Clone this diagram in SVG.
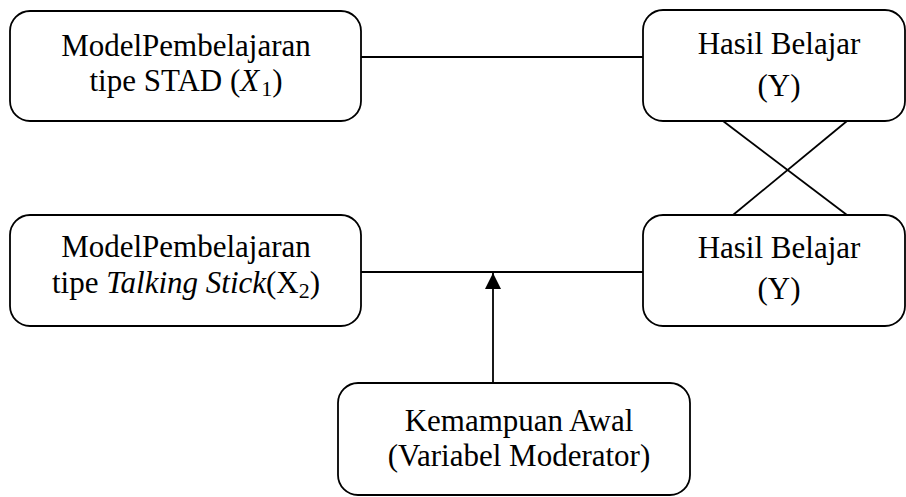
<svg xmlns="http://www.w3.org/2000/svg" width="906" height="497" viewBox="0 0 906 497">
<defs>
<style>
.box{fill:#fff;stroke:#000;stroke-width:1.8}
.ln{fill:none;stroke:#000;stroke-width:1.8}
.t{font-size:31px;fill:#000;text-anchor:middle}
</style>
<marker id="arr" viewBox="0 0 16 16" refX="16" refY="8" markerWidth="16" markerHeight="16" markerUnits="userSpaceOnUse" orient="auto">
<path d="M0,0 L16,8 L0,16 Z" fill="#000"/>
</marker>
</defs>
<g id="connectors">
<line class="ln" x1="361" y1="57" x2="643" y2="57"/>
<line class="ln" x1="361" y1="272" x2="643" y2="272"/>
<line class="ln" x1="723" y1="121" x2="847" y2="215"/>
<line class="ln" x1="847" y1="121" x2="733" y2="215"/>
<line class="ln" x1="493" y1="383" x2="493" y2="273" marker-end="url(#arr)"/>
</g>
<g id="node-x1">
<rect class="box" x="10" y="11" width="351" height="110" rx="20"/>
<text class="t" font-family="Liberation Serif" x="186" y="56">ModelPembelajaran</text>
<text class="t" font-family="Liberation Serif" x="186" y="91">tipe STAD (<tspan font-style="italic">X</tspan><tspan font-size="22" dy="5" dx="2">1</tspan><tspan dy="-5">)</tspan></text>
</g>
<g id="node-y1">
<rect class="box" x="643" y="10" width="262" height="111" rx="20"/>
<text class="t" font-family="Liberation Serif" x="779" y="54">Hasil Belajar</text>
<text class="t" font-family="Liberation Serif" x="779" y="96">(Y)</text>
</g>
<g id="node-x2">
<rect class="box" x="10" y="215" width="351" height="111" rx="20"/>
<text class="t" font-family="Liberation Serif" x="186" y="257">ModelPembelajaran</text>
<text class="t" font-family="Liberation Serif" x="186" y="293">tipe <tspan font-style="italic">Talking Stick</tspan>(X<tspan font-size="22" dy="5">2</tspan><tspan dy="-5">)</tspan></text>
</g>
<g id="node-y2">
<rect class="box" x="643" y="215" width="262" height="111" rx="20"/>
<text class="t" font-family="Liberation Serif" x="779" y="258">Hasil Belajar</text>
<text class="t" font-family="Liberation Serif" x="779" y="299">(Y)</text>
</g>
<g id="node-moderator">
<rect class="box" x="338" y="383" width="352" height="112" rx="20"/>
<text class="t" font-family="Liberation Serif" x="519" y="431">Kemampuan Awal</text>
<text class="t" font-family="Liberation Serif" x="519" y="466">(Variabel Moderator)</text>
</g>
</svg>
